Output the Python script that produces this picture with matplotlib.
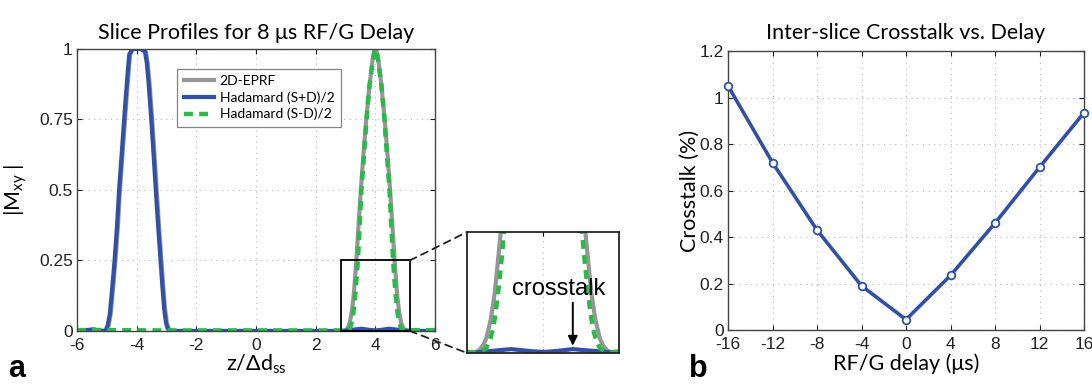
import numpy as np
import matplotlib
matplotlib.use('Agg')
import matplotlib.pyplot as plt
from matplotlib.patches import Rectangle, ConnectionPatch

plt.rcParams['font.family'] = ['Liberation Sans', 'DejaVu Sans']
plt.rcParams['axes.unicode_minus'] = False
plt.rcParams['mathtext.fontset'] = 'custom'
plt.rcParams['mathtext.rm'] = 'Lato'
plt.rcParams['mathtext.it'] = 'Lato'

# ---- panel a : slice profiles ----
z_sum = [-6.0, -5.6, -5.45, -5.25, -5.05, -4.97, -4.90, -4.83, -4.74, -4.66, -4.59, -4.50, -4.42,
         -4.35, -4.29, -4.25, -4.15, -4.0, -3.85, -3.72, -3.66, -3.60, -3.51, -3.43, -3.36, -3.28,
         -3.20, -3.14, -3.08, -3.02, -2.96, -2.85, 0.0, 2.9, 3.2, 3.52, 3.8, 4.0, 4.2, 4.45, 4.7,
         5.0, 5.3, 6.0]
m_sum = [0.002, 0.004, 0.006, 0.002, 0.0, 0.02, 0.06, 0.14, 0.25, 0.37, 0.5, 0.63, 0.75,
         0.85, 0.93, 0.98, 1.0, 1.0, 1.0, 0.99, 0.95, 0.88, 0.75, 0.62, 0.5, 0.37,
         0.25, 0.16, 0.08, 0.03, 0.008, 0.0, 0.0, 0.0, 0.004, 0.008, 0.004, 0.002, 0.004, 0.008,
         0.005, 0.002, 0.0, 0.0]

z_diff = [-6.0, -5.3, -5.1, -4.9, -3.0, 2.9, 2.98, 3.06, 3.14, 3.20, 3.24, 3.28, 3.32, 3.37,
          3.41, 3.47, 3.53, 3.62, 3.70, 3.80, 3.90, 3.96, 4.0, 4.04, 4.10, 4.20, 4.30, 4.38,
          4.47, 4.53, 4.59, 4.63, 4.68, 4.72, 4.76, 4.80, 4.86, 4.94, 5.02, 5.1, 6.0]
m_diff = [0.003, 0.003, 0.006, 0.003, 0.002, 0.002, 0.0, 0.003, 0.01, 0.028, 0.048, 0.08, 0.125,
          0.19, 0.25, 0.37, 0.5, 0.63, 0.75, 0.87, 0.95, 0.99, 1.0, 0.99, 0.95, 0.87, 0.75,
          0.63, 0.5, 0.37, 0.25, 0.19, 0.125, 0.08, 0.048, 0.028, 0.01, 0.003, 0.0, 0.003, 0.003]

z_eprf = [-6.0, -5.2, -5.02, -4.94, -4.87, -4.80, -4.71, -4.63, -4.56, -4.47, -4.39, -4.32,
          -4.26, -4.22, -4.12, -3.97, -3.82, -3.69, -3.63, -3.57, -3.48, -3.40, -3.33, -3.25,
          -3.17, -3.11, -3.05, -2.99, -2.93, -2.8, 2.95, 3.03, 3.09, 3.14, 3.21, 3.27, 3.31,
          3.36, 3.43, 3.51, 3.60, 3.69, 3.80, 3.90, 3.96, 4.0, 4.04, 4.10, 4.20, 4.31, 4.40,
          4.49, 4.57, 4.64, 4.69, 4.73, 4.79, 4.86, 4.91, 4.97, 5.05, 6.0]
m_eprf = [0.0, 0.0, 0.0, 0.02, 0.06, 0.14, 0.25, 0.37, 0.5, 0.63, 0.75, 0.85,
          0.93, 0.98, 1.0, 1.0, 1.0, 0.99, 0.95, 0.88, 0.75, 0.62, 0.5, 0.37,
          0.25, 0.16, 0.08, 0.03, 0.008, 0.0, 0.0, 0.005, 0.015, 0.03, 0.07, 0.125, 0.18,
          0.25, 0.37, 0.5, 0.63, 0.75, 0.87, 0.96, 0.99, 1.0, 0.99, 0.96, 0.87, 0.75, 0.63,
          0.5, 0.37, 0.25, 0.18, 0.125, 0.07, 0.03, 0.015, 0.005, 0.0, 0.0]

# ---- panel b : crosstalk vs delay ----
delay = [-16, -12, -8, -4, 0, 4, 8, 12, 16]
crosstalk = [1.05, 0.72, 0.43, 0.19, 0.045, 0.235, 0.46, 0.70, 0.935]

blue = '#3150a6'
green = '#2db84a'
gray = '#969696'
title_font = ['Lato', 'DejaVu Sans']

fig = plt.figure(figsize=(10.92, 3.86), dpi=100)
ax1 = fig.add_axes([0.0705, 0.1425, 0.328, 0.7306])
ax2 = fig.add_axes([0.4277, 0.0855, 0.1392, 0.3135])
ax3 = fig.add_axes([0.6667, 0.145, 0.326, 0.7228])


def style(ax):
    ax.tick_params(direction='in', length=3.5, labelsize=12.5, top=True, right=True,
                   pad=3, colors='#222222')
    ax.tick_params(axis='x', pad=5)
    for s in ax.spines.values():
        s.set_color('#444444')
        s.set_linewidth(1.0)
    ax.grid(True, linestyle=(0, (1, 4)), color='#b8b8b8', linewidth=0.8)


for ax in (ax1, ax2):
    ax.plot(z_eprf, m_eprf, color=gray, lw=3, label='2D-EPRF')
    ax.plot(z_sum, m_sum, color=blue, lw=3, label='Hadamard (S+D)/2')
    ax.plot(z_diff, m_diff, color=green, lw=3.2, ls=(0, (2.0, 1.4)), label='Hadamard (S-D)/2')

style(ax1)
ax1.set_xlim(-6, 6)
ax1.set_ylim(0, 1)
ax1.set_xticks([-6, -4, -2, 0, 2, 4, 6])
ax1.set_yticks([0, 0.25, 0.5, 0.75, 1])
ax1.set_yticklabels(['0', '0.25', '0.5', '0.75', '1'])
ax1.set_title('Slice Profiles for 8 μs RF/G Delay', family=title_font, fontsize=15.5, pad=7)
ax1.set_xlabel('z/Δd$_\\mathrm{ss}$', family=title_font, fontsize=15.5, labelpad=0)
ax1.set_ylabel('|M$_\\mathrm{xy}$ |', family=title_font, fontsize=15.5)
ax1.yaxis.set_label_coords(-0.135, 0.5)
leg = ax1.legend(loc='upper left', bbox_to_anchor=(0.28, 0.93),
                 prop={'family': title_font, 'size': 10}, frameon=True, fancybox=False,
                 handlelength=2.2, borderpad=0.45, labelspacing=0.3, handletextpad=0.4,
                 borderaxespad=0)
leg.get_frame().set_edgecolor('#666666')
leg.get_frame().set_linewidth(0.9)

# zoom box and connectors
zx0, zx1, zy0, zy1 = 2.85, 5.15, 0.0, 0.25
ax1.add_patch(Rectangle((zx0, zy0), zx1 - zx0, zy1 - zy0, fill=False, ec='black', lw=1.3,
                        zorder=5, clip_on=False))
for (xa, ya), (xb, yb) in [((zx1, zy1), (0, 1)), ((zx1, zy0), (0, 0))]:
    con = ConnectionPatch(xyA=(xa, ya), coordsA=ax1.transData, xyB=(xb, yb),
                          coordsB=ax2.transAxes, color='#222222', lw=1.3, ls=(0, (4, 3)))
    fig.add_artist(con)

ax2.set_xlim(zx0, zx1)
ax2.set_ylim(zy0, zy1)
ax2.set_xticks([4])
ax2.set_yticks([])
ax2.tick_params(direction='in', length=3, labelbottom=False, top=True)
ax2.grid(True, axis='x', linestyle=(0, (1, 4)), color='#b8b8b8', linewidth=0.8)
for s in ax2.spines.values():
    s.set_color('#222222')
    s.set_linewidth(1.3)
ax2.text(4.24, 0.132, 'crosstalk', ha='center', va='center', fontsize=17,
         family=['Liberation Sans'])
ax2.annotate('', xy=(4.45, 0.015), xytext=(4.45, 0.104),
             arrowprops=dict(arrowstyle='-|>', color='black', lw=1.4, mutation_scale=14,
                             shrinkA=0, shrinkB=0))

# panel b
style(ax3)
ax3.plot(delay, crosstalk, color=blue, lw=2.6, marker='o', markersize=5.5,
         markerfacecolor='white', markeredgecolor=blue, markeredgewidth=1.3, clip_on=False,
         zorder=5)
ax3.set_xlim(-16, 16)
ax3.set_ylim(0, 1.2)
ax3.set_xticks(delay)
ax3.set_yticks([0, 0.2, 0.4, 0.6, 0.8, 1.0, 1.2])
ax3.set_yticklabels(['0', '0.2', '0.4', '0.6', '0.8', '1', '1.2'])
ax3.set_title('Inter-slice Crosstalk vs. Delay', family=title_font, fontsize=15.5, pad=9)
ax3.set_xlabel('RF/G delay (μs)', family=title_font, fontsize=15.5, labelpad=1)
ax3.set_ylabel('Crosstalk (%)', family=title_font, fontsize=15.5)
ax3.yaxis.set_label_coords(-0.08, 0.5)

fig.text(0.007, 0.004, 'a', fontsize=22, fontweight='bold', family=['Liberation Sans'],
         va='bottom')
fig.text(0.631, 0.004, 'b', fontsize=22, fontweight='bold', family=['Liberation Sans'],
         va='bottom')

fig.savefig('out.png', dpi=100)
